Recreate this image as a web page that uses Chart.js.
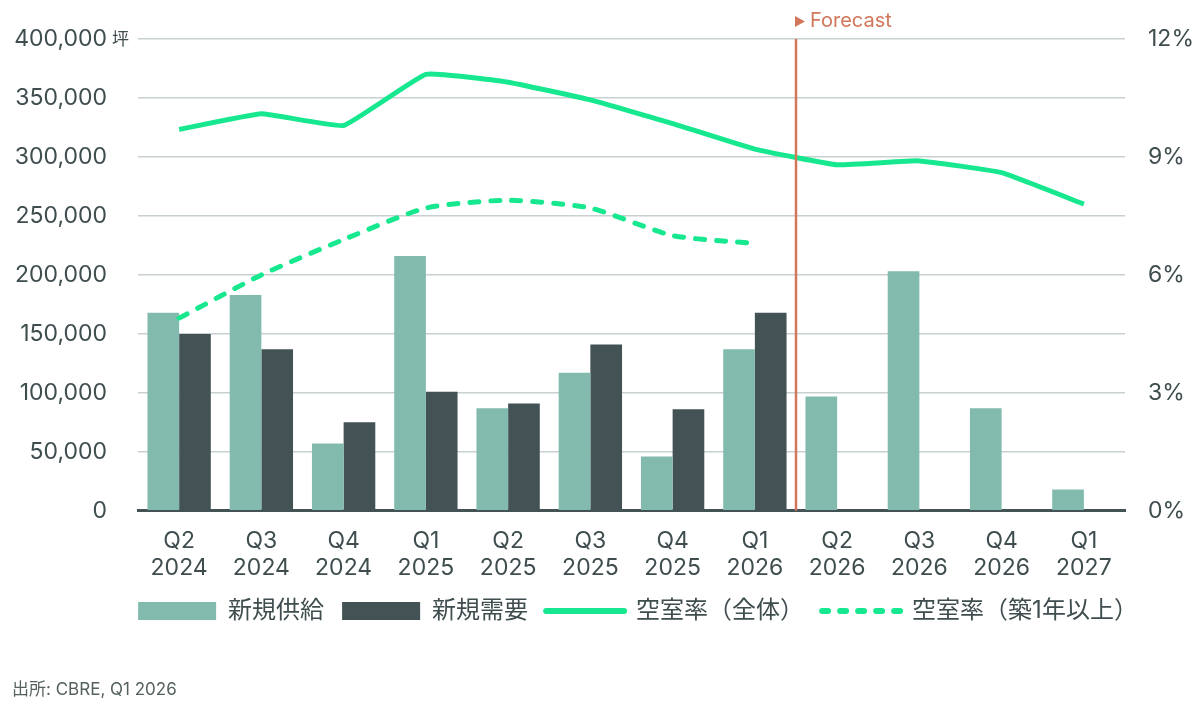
<!DOCTYPE html>
<html>
<head>
<meta charset="utf-8">
<script src="https://cdn.jsdelivr.net/npm/chart.js@4.4.1/dist/chart.umd.min.js"></script>
<style>
  html, body { margin: 0; padding: 0; background: #fff; }
  #wrap { position: relative; width: 1200px; height: 710px; }
</style>
</head>
<body>
<div id="wrap"><canvas id="supplyChart"></canvas></div>
<script>
const quarters = ['Q2', 'Q3', 'Q4', 'Q1', 'Q2', 'Q3', 'Q4', 'Q1', 'Q2', 'Q3', 'Q4', 'Q1'];
const years = ['2024', '2024', '2024', '2025', '2025', '2025', '2025', '2026', '2026', '2026', '2026', '2027'];
const newSupply = [168000, 183000, 57000, 216000, 87000, 117000, 46000, 137000, 97000, 203000, 87000, 18000];
const newDemand = [150000, 137000, 75000, 101000, 91000, 141000, 86000, 168000, null, null, null, null];
const vacancyAll = [9.7, 10.1, 9.8, 11.1, 10.9, 10.45, 9.85, 9.2, 8.8, 8.9, 8.6, 7.8];
const vacancyOver1yr = [4.9, 6.0, 6.9, 7.7, 7.9, 7.7, 7.0, 6.8, null, null, null, null];
const forecastAfter = 7; // last actual quarter index

const textColor = '#3f4d4f';
const green = '#17E88F';
const forecastColor = '#D2785A';
const fontFamily = "Inter, 'Noto Sans CJK JP', sans-serif";

const labels = quarters.map((q, i) => [q, years[i]]);

const extras = {
    id: 'extras',
    afterLayout(chart) {
        // nudge legend to sit where the reference has it
        const lg = chart.legend;
        lg.left += 33; lg.right += 33;
        lg.top -= 9; lg.bottom -= 9;
    },
    afterDatasetsDraw(chart) {
        const {ctx, chartArea, scales} = chart;
        const x = (scales.x.getPixelForValue(forecastAfter) + scales.x.getPixelForValue(forecastAfter + 1)) / 2;
        ctx.save();
        ctx.strokeStyle = forecastColor;
        ctx.lineWidth = 2.5;
        ctx.beginPath();
        ctx.moveTo(x, chartArea.top);
        ctx.lineTo(x, chartArea.bottom);
        ctx.stroke();
        // label
        ctx.fillStyle = forecastColor;
        ctx.beginPath();
        ctx.moveTo(x - 1, 16);
        ctx.lineTo(x + 9, 21.5);
        ctx.lineTo(x - 1, 27);
        ctx.closePath();
        ctx.fill();
        ctx.font = '20px ' + fontFamily;
        ctx.textBaseline = 'middle';
        ctx.textAlign = 'left';
        ctx.fillText('Forecast', x + 14, 21);
        // unit
        ctx.fillStyle = textColor;
        ctx.font = "17px 'Noto Sans CJK JP', sans-serif";
        ctx.fillText('坪', chartArea.left - 26, scales.y.getPixelForValue(400000));
        // source
        ctx.fillStyle = '#55615f';
        ctx.font = '17px ' + fontFamily;
        ctx.fillText('出所: CBRE, Q1 2026', 12, 690);
        ctx.restore();
    }
};

function fixWidth(w) {
    return scale => {
        scale.width = w;
        scale.paddingTop = 14;
        scale.paddingBottom = 14;
    };
}

const ctx = document.getElementById('supplyChart').getContext('2d');
const supplyChart = new Chart(ctx, {
    type: 'bar',
    data: {
        labels: labels,
        datasets: [
            {
                type: 'line',
                label: '空室率（全体）',
                data: vacancyAll,
                yAxisID: 'y1',
                borderColor: green,
                backgroundColor: green,
                borderWidth: 5,
                pointRadius: 0,
                tension: 0.1,
                order: 0
            },
            {
                type: 'line',
                label: '空室率（築1年以上）',
                data: vacancyOver1yr,
                yAxisID: 'y1',
                borderColor: green,
                backgroundColor: green,
                borderWidth: 5,
                borderDash: [9, 12],
                borderCapStyle: 'round',
                pointRadius: 0,
                tension: 0.2,
                order: 0
            },
            {
                label: '新規供給',
                data: newSupply,
                backgroundColor: '#82BBAD',
                categoryPercentage: 0.77,
                barPercentage: 1.0,
                order: 1
            },
            {
                label: '新規需要',
                data: newDemand,
                backgroundColor: '#435254',
                categoryPercentage: 0.77,
                barPercentage: 1.0,
                order: 1
            }
        ]
    },
    options: {
        responsive: true,
        maintainAspectRatio: false,
        animation: false,
        layout: {
            padding: { left: 10, right: 0, top: 39, bottom: 68 }
        },
        plugins: {
            tooltip: { enabled: false },
            legend: {
                position: 'bottom',
                labels: {
                    usePointStyle: true,
                    pointStyleWidth: 78,
                    boxHeight: 18,
                    padding: 18,
                    color: textColor,
                    font: { family: fontFamily, size: 24 },
                    sort: (a, b) => [2, 3, 0, 1].indexOf(a.datasetIndex) - [2, 3, 0, 1].indexOf(b.datasetIndex),
                    generateLabels(chart) {
                        const items = Chart.defaults.plugins.legend.labels.generateLabels(chart);
                        items.forEach(it => {
                            const ds = chart.data.datasets[it.datasetIndex];
                            it.pointStyle = ds.type === 'line' ? 'line' : 'rect';
                            if (ds.type === 'line') {
                                it.lineWidth = 6;
                                it.lineDash = ds.borderDash ? [6, 12] : [];
                                it.lineCap = 'round';
                            }
                        });
                        return items;
                    }
                }
            }
        },
        scales: {
            x: {
                grid: { display: false },
                border: { color: '#435254', width: 3 },
                ticks: {
                    color: textColor,
                    padding: 8,
                    maxRotation: 0,
                    font: { family: fontFamily, size: 23 }
                }
            },
            y: {
                position: 'left',
                min: 0,
                max: 400000,
                afterFit: fixWidth(128),
                grid: { color: '#c9d0d2', lineWidth: 1.5, drawTicks: false },
                border: { display: false },
                ticks: {
                    stepSize: 50000,
                    padding: 31,
                    color: textColor,
                    font: { family: fontFamily, size: 23 },
                    callback: v => v.toLocaleString('en-US')
                }
            },
            y1: {
                position: 'right',
                min: 0,
                max: 12,
                afterFit: fixWidth(75),
                grid: { display: false, drawTicks: false },
                border: { display: false },
                ticks: {
                    stepSize: 3,
                    padding: 23,
                    color: textColor,
                    font: { family: fontFamily, size: 23 },
                    callback: v => v + '%'
                }
            }
        }
    },
    plugins: [extras]
});
</script>
</body>
</html>
